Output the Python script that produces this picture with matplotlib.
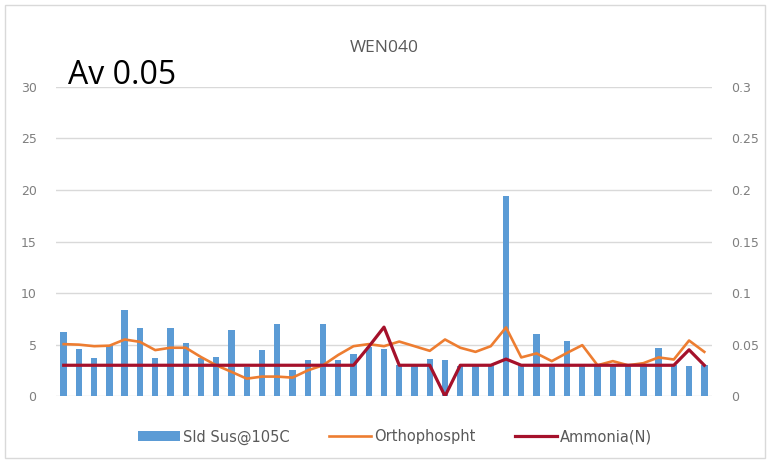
import numpy as np
import matplotlib.pyplot as plt
from matplotlib.patches import Rectangle

# values
sld_sus = [6.2, 4.6, 3.7, 5.0, 8.4, 6.6, 3.75, 6.6, 5.2, 3.75,
           3.8, 6.45, 2.8, 4.5, 7.05, 2.5, 3.5, 7.05, 3.5, 4.05,
           4.8, 4.6, 3.0, 3.0, 3.65, 3.5, 2.9, 2.9, 3.0, 19.4,
           3.0, 6.0, 3.0, 5.35, 3.0, 3.0, 3.0, 3.0, 3.0, 4.7,
           3.0, 2.9, 3.0]
orthophos = [0.0505, 0.050, 0.0485, 0.049, 0.055, 0.0527, 0.0447, 0.047, 0.047, 0.038,
             0.030, 0.0236, 0.017, 0.019, 0.019, 0.018, 0.025, 0.030, 0.040, 0.0485,
             0.0505, 0.0485, 0.053, 0.0485, 0.044, 0.055, 0.047, 0.043, 0.0485, 0.0667,
             0.0376, 0.0415, 0.034, 0.042, 0.0495, 0.030, 0.034, 0.030, 0.032, 0.0376,
             0.0356, 0.054, 0.043]
ammonia = [0.03] * 20 + [0.048, 0.067, 0.03, 0.03, 0.03, 0.0, 0.03, 0.03, 0.03, 0.036] + \
          [0.03] * 11 + [0.045, 0.03]

x = np.arange(len(sld_sus))
grey = '#7f7f7f'

fig = plt.figure(figsize=(7.68, 4.65), dpi=100)
fig.patches.append(Rectangle((0.006, 0.015), 0.99, 0.975, transform=fig.transFigure,
                             fill=False, edgecolor='#d9d9d9', lw=1))
ax = fig.add_axes([0.073, 0.148, 0.854, 0.665])
ax2 = ax.twinx()

ax.bar(x, sld_sus, width=0.42, color='#5b9bd5', label='Sld Sus@105C', zorder=2)
ax2.plot(x, orthophos, color='#ed7d31', lw=1.9, label='Orthophospht', zorder=3)
ax2.plot(x, ammonia, color='#a5112b', lw=2.3, label='Ammonia(N)', zorder=4)

ax.set_xlim(-0.5, len(x) - 0.5)
ax.set_ylim(0, 30)
ax.set_yticks(range(0, 31, 5))
ax2.set_ylim(0, 0.3)
ax2.set_yticks([0, 0.05, 0.1, 0.15, 0.2, 0.25, 0.3])
ax2.set_yticklabels(['0', '0.05', '0.1', '0.15', '0.2', '0.25', '0.3'])
ax.set_xticks([])
ax.grid(axis='y', color='#d9d9d9', lw=1, zorder=0)
ax.set_axisbelow(True)
for a in (ax, ax2):
    for s in a.spines.values():
        s.set_visible(False)
    a.tick_params(length=0, labelsize=9, labelcolor=grey, pad=14)

fig.text(0.5, 0.897, 'WEN040', ha='center', va='center', fontsize=12.5, color='#595959',
         family='Open Sans')
fig.text(0.089, 0.838, 'Av 0.05', ha='left', va='center', fontsize=23, color='black',
         family='Open Sans')

h1, l1 = ax.get_legend_handles_labels()
h2, l2 = ax2.get_legend_handles_labels()
fig.legend(h1 + h2, l1 + l2, loc='center', bbox_to_anchor=(0.514, 0.06), ncol=3,
           frameon=False, fontsize=10.5, labelcolor='#595959', handlelength=2.9,
           columnspacing=2.7, handletextpad=0.2)

fig.savefig('out.png', dpi=100)
